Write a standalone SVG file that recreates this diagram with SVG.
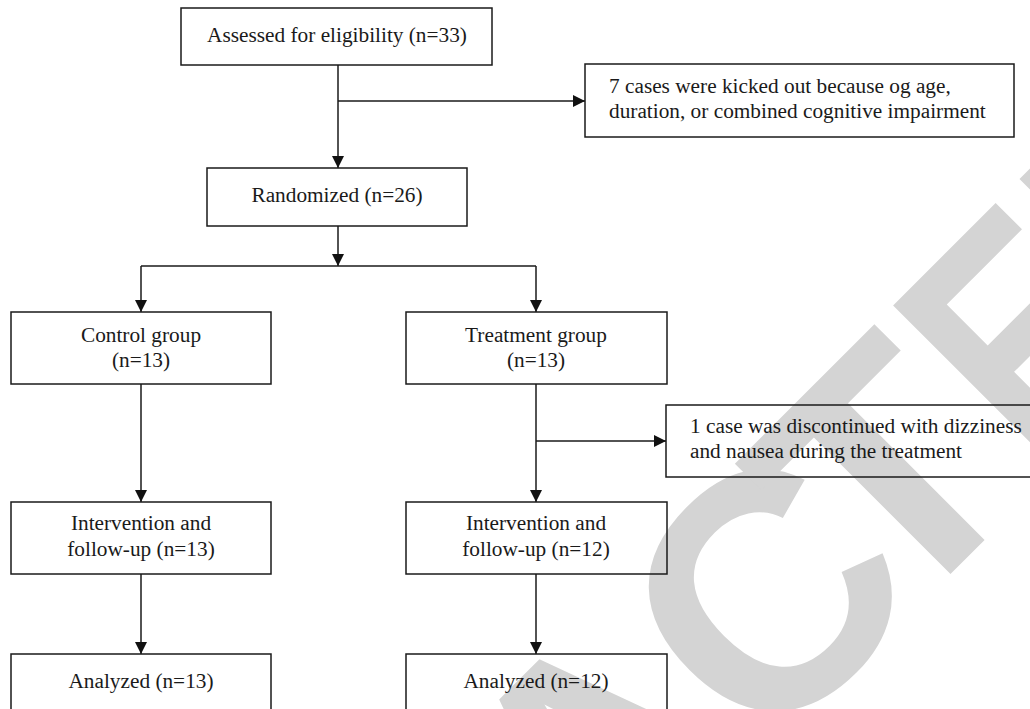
<svg xmlns="http://www.w3.org/2000/svg" width="1030" height="709" viewBox="0 0 1030 709">
<defs>
<marker id="arr" markerUnits="userSpaceOnUse" markerWidth="14" markerHeight="14" refX="12" refY="6" orient="auto">
<path d="M0,0 L12,6 L0,12 Z" fill="#111"/>
</marker>
<style>
.box{fill:none;stroke:#1a1a1a;stroke-width:1.5}
.t{font-family:"Liberation Serif","Times New Roman",serif;font-size:21.3px;fill:#1a1a1a}
.c{text-anchor:middle}
.ln{fill:none;stroke:#1a1a1a;stroke-width:1.5}
.wm{font-family:"Liberation Sans",Arial,sans-serif;font-weight:bold;font-size:335px;fill:#d4d4d4}
</style>
</defs>
<rect width="1030" height="709" fill="#fff"/>
<g id="watermark">
<text class="wm" transform="rotate(-45)" x="-1146 -904 -681 -476 -234 0 188" y="1078">RETRACT</text>
<text class="wm" transform="rotate(-45) scale(0.8,1)" x="497" y="1078">ED</text>
</g>
<g id="connectors">
<path class="ln" d="M338,65 V168" marker-end="url(#arr)"/>
<path class="ln" d="M338,101 H585" marker-end="url(#arr)"/>
<path class="ln" d="M338,226 V266" marker-end="url(#arr)"/>
<path class="ln" d="M141,266 H536"/>
<path class="ln" d="M141,266 V312" marker-end="url(#arr)"/>
<path class="ln" d="M536,266 V312" marker-end="url(#arr)"/>
<path class="ln" d="M141,384 V502" marker-end="url(#arr)"/>
<path class="ln" d="M536,384 V502" marker-end="url(#arr)"/>
<path class="ln" d="M536,441 H666" marker-end="url(#arr)"/>
<path class="ln" d="M141,574 V654" marker-end="url(#arr)"/>
<path class="ln" d="M536,574 V654" marker-end="url(#arr)"/>
</g>
<g id="assessed"><rect class="box" x="181" y="8" width="311" height="57"/><text class="t c" x="337" y="42">Assessed for eligibility (n=33)</text></g>
<g id="excluded"><rect class="box" x="585" y="64" width="429" height="73"/><text class="t" x="609" y="93">7 cases were kicked out because og age,</text><text class="t" x="609" y="118">duration, or combined cognitive impairment</text></g>
<g id="randomized"><rect class="box" x="207" y="168" width="260" height="58"/><text class="t c" x="337" y="202">Randomized (n=26)</text></g>
<g id="control"><rect class="box" x="11" y="312" width="260" height="72"/><text class="t c" x="141" y="342">Control group</text><text class="t c" x="141" y="367">(n=13)</text></g>
<g id="treatment"><rect class="box" x="406" y="312" width="261" height="72"/><text class="t c" x="536" y="342">Treatment group</text><text class="t c" x="536" y="367">(n=13)</text></g>
<g id="discontinued"><rect class="box" x="666" y="405" width="380" height="72"/><text class="t" x="690" y="433">1 case was discontinued with dizziness</text><text class="t" x="690" y="458">and nausea during the treatment</text></g>
<g id="intervention-control"><rect class="box" x="11" y="502" width="260" height="72"/><text class="t c" x="141" y="530">Intervention and</text><text class="t c" x="141" y="556">follow-up (n=13)</text></g>
<g id="intervention-treatment"><rect class="box" x="406" y="502" width="261" height="72"/><text class="t c" x="536" y="530">Intervention and</text><text class="t c" x="536" y="556">follow-up (n=12)</text></g>
<g id="analyzed-control"><rect class="box" x="11" y="654" width="260" height="72"/><text class="t c" x="141" y="688">Analyzed (n=13)</text></g>
<g id="analyzed-treatment"><rect class="box" x="406" y="654" width="261" height="72"/><text class="t c" x="536" y="688">Analyzed (n=12)</text></g>
</svg>
